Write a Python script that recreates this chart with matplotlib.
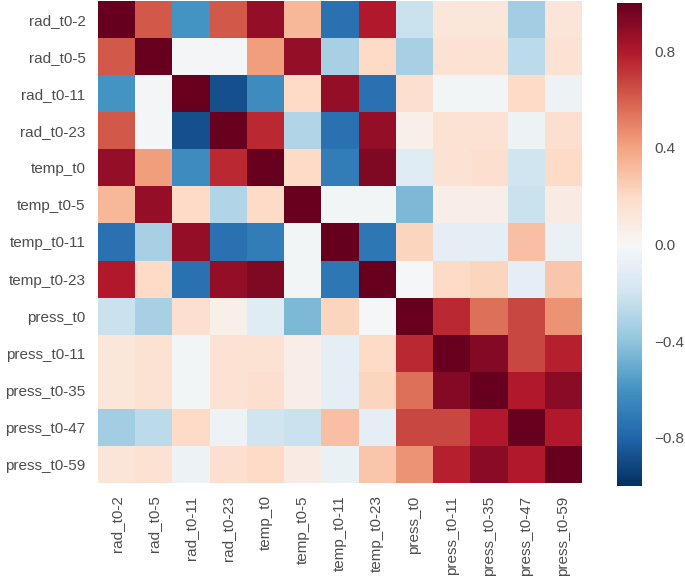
import matplotlib
matplotlib.use("Agg")
import matplotlib.pyplot as plt
import numpy as np

labels = ["rad_t0-2", "rad_t0-5", "rad_t0-11", "rad_t0-23", "temp_t0", "temp_t0-5",
          "temp_t0-11", "temp_t0-23", "press_t0", "press_t0-11", "press_t0-35",
          "press_t0-47", "press_t0-59"]

corr = [
    [1.00, 0.62, -0.60, 0.62, 0.88, 0.33, -0.75, 0.80, -0.22, 0.12, 0.12, -0.35, 0.13],
    [0.62, 1.00, -0.02, -0.02, 0.42, 0.88, -0.33, 0.20, -0.33, 0.15, 0.15, -0.27, 0.15],
    [-0.60, -0.02, 1.00, -0.88, -0.63, 0.20, 0.88, -0.75, 0.17, -0.03, -0.03, 0.20, -0.05],
    [0.62, -0.02, -0.88, 1.00, 0.75, -0.30, -0.75, 0.88, 0.06, 0.15, 0.15, -0.05, 0.17],
    [0.88, 0.42, -0.63, 0.75, 1.00, 0.20, -0.70, 0.93, -0.12, 0.15, 0.17, -0.20, 0.20],
    [0.33, 0.88, 0.20, -0.30, 0.20, 1.00, -0.03, -0.03, -0.45, 0.07, 0.07, -0.22, 0.08],
    [-0.75, -0.33, 0.88, -0.75, -0.70, -0.03, 1.00, -0.72, 0.22, -0.10, -0.10, 0.30, -0.07],
    [0.80, 0.20, -0.75, 0.88, 0.93, -0.03, -0.72, 1.00, -0.01, 0.20, 0.22, -0.10, 0.28],
    [-0.22, -0.33, 0.17, 0.06, -0.12, -0.45, 0.22, -0.01, 1.00, 0.75, 0.55, 0.67, 0.45],
    [0.12, 0.15, -0.03, 0.15, 0.15, 0.07, -0.10, 0.20, 0.75, 1.00, 0.92, 0.67, 0.78],
    [0.12, 0.15, -0.03, 0.15, 0.17, 0.07, -0.10, 0.22, 0.55, 0.92, 1.00, 0.80, 0.90],
    [-0.35, -0.27, 0.20, -0.05, -0.20, -0.22, 0.30, -0.10, 0.67, 0.67, 0.80, 1.00, 0.80],
    [0.13, 0.15, -0.05, 0.17, 0.20, 0.08, -0.07, 0.28, 0.45, 0.78, 0.90, 0.80, 1.00],
]

cbar_ticks = [-0.8, -0.4, 0.0, 0.4, 0.8]
cbar_labels = ["\u22120.8", "\u22120.4", "0.0", "0.4", "0.8"]

plt.rcParams['font.family'] = ['Liberation Sans', 'DejaVu Sans']
text_color = '#4d4d4d'

W, H = 685, 587
fig = plt.figure(figsize=(W / 100, H / 100), dpi=100)
ax = fig.add_axes([98 / W, 1 - 483 / H, 484 / W, 482 / H])
cax = fig.add_axes([617 / W, 1 - 486 / H, 25 / W, 483 / H])

data = np.array(corr)
mesh = ax.pcolormesh(data, cmap='RdBu_r', vmin=-1, vmax=1)
ax.set_xlim(0, len(labels))
ax.set_ylim(len(labels), 0)
ax.set_xticks(np.arange(len(labels)) + 0.5)
ax.set_yticks(np.arange(len(labels)) + 0.5)
ax.set_xticklabels(labels, rotation=90, fontsize=11, color=text_color)
ax.set_yticklabels(labels, rotation=0, fontsize=11, color=text_color)
ax.tick_params(length=0, pad=9)
for s in ax.spines.values():
    s.set_visible(False)

cb = fig.colorbar(mesh, cax=cax, ticks=cbar_ticks)
cb.outline.set_visible(False)
cb.ax.tick_params(length=0, labelsize=11, labelcolor=text_color, pad=9)
cb.ax.set_yticklabels(cbar_labels)

fig.savefig("out.png", dpi=100)
